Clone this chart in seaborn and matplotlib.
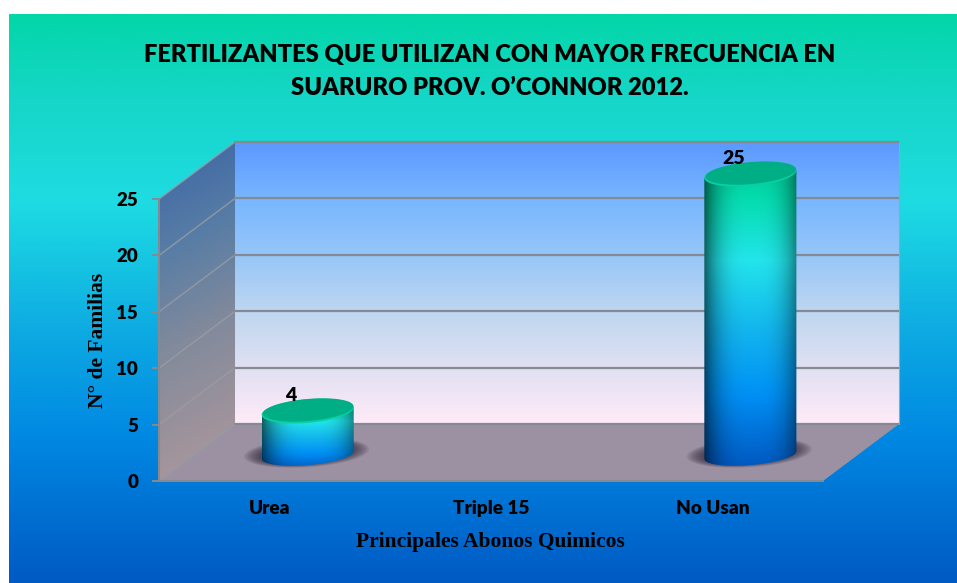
import numpy as np
import pandas as pd
import matplotlib
matplotlib.use('Agg')
import matplotlib.pyplot as plt
from matplotlib.colors import LinearSegmentedColormap
from matplotlib.patches import Polygon
import seaborn as sns

categorias = ['Urea', 'Triple 15', 'No Usan']
familias = [4, 0, 25]
ticks_y = [0, 5, 10, 15, 20, 25]

titulo = 'FERTILIZANTES QUE UTILIZAN CON MAYOR FRECUENCIA EN\nSUARURO PROV. O\u2019CONNOR 2012.'
etiqueta_x = 'Principales Abonos Quimicos'
etiqueta_y = 'N\u00b0 de Familias'

W, H = 957, 583
# depth of the fake 3d box, in data units
dx = 0.3434
dy = 5.05
base = 2.3
gris = '#858a92'

sns.set_style('white')
plt.rcParams['font.family'] = ['Lato', 'DejaVu Sans']


def cmap(*cols):
    return LinearSegmentedColormap.from_list('c', [(p, tuple(v / 255 for v in c)) for p, c in cols])


fondo_cm = cmap((0, (3, 214, 168)), (0.15, (22, 214, 200)), (0.33, (30, 220, 226)),
                (0.55, (14, 172, 226)), (0.75, (0, 135, 226)), (1, (0, 90, 195)))
pared_cm = cmap((0, (255, 235, 248)), (0.2, (224, 224, 242)), (0.4, (190, 214, 240)),
                (0.6, (150, 198, 248)), (0.8, (120, 182, 255)), (1, (92, 152, 255)))
lado_cm = cmap((0, (168, 150, 155)), (0.4, (130, 138, 155)), (0.7, (88, 125, 165)), (1, (62, 104, 165)))
cil_cm = cmap((0, (0, 85, 190)), (0.25, (0, 145, 245)), (0.45, (18, 180, 238)),
              (0.68, (35, 228, 235)), (0.88, (5, 220, 175)), (1, (0, 200, 150)))

fig = plt.figure(figsize=(W / 100, H / 100), dpi=100, facecolor='white')

# panel background
bg = fig.add_axes([9 / W, 0, (W - 9) / W, (H - 14) / H], zorder=0)
bg.imshow(np.linspace(0, 1, 256).reshape(-1, 1), cmap=fondo_cm, aspect='auto', vmin=0, vmax=1)
bg.axis('off')

ax = fig.add_axes([159 / W, (H - 481) / H, 664 / W, 282 / H], zorder=1)
ax.patch.set_alpha(0)

df = pd.DataFrame({'categoria': categorias, 'familias': familias})
sns.barplot(data=df, x='categoria', y='familias', order=categorias, width=0.416, ax=ax)
ax.set_xlim(-0.5, 2.5)
ax.set_ylim(0, 25)
x0, x1 = -0.5, 2.5


def relleno(pts, extent, arr, cm, z):
    im = ax.imshow(arr, extent=extent, cmap=cm, aspect='auto', vmin=0, vmax=1, origin='lower', zorder=z)
    pol = Polygon(pts, transform=ax.transData, facecolor='none', edgecolor='none')
    # images fall back to the axes box, so give them the whole figure
    im.set_clip_box(fig.bbox)
    im.set_clip_path(pol)
    return im


# back wall, side wall, floor
pared = [(x0 + dx, dy), (x1 + dx, dy), (x1 + dx, 25 + dy), (x0 + dx, 25 + dy)]
relleno(pared, [x0 + dx, x1 + dx, dy, 25 + dy], np.linspace(0, 1, 256).reshape(-1, 1), pared_cm, 0.2)
lado = [(x0, 0), (x0 + dx, dy), (x0 + dx, 25 + dy), (x0, 25)]
xx, yy = np.meshgrid(np.linspace(0, 1, 64), np.linspace(0, 1, 256))
relleno(lado, [x0, x0 + dx, 0, 25 + dy], np.clip(yy * 1.02 - xx * 0.12 + 0.02, 0, 1), lado_cm, 0.2)
ax.add_patch(Polygon([(x0, 0), (x1, 0), (x1 + dx, dy), (x0 + dx, dy)], facecolor='#9b91a3',
                     edgecolor='none', clip_on=False, zorder=0.3))

# grid lines going around the walls
for v in ticks_y:
    ax.plot([x0, x0 + dx], [v, v + dy], color='#9a9ea4', lw=1.1, alpha=0.75, clip_on=False, zorder=0.4)
    ax.plot([x0 + dx, x1 + dx], [v + dy, v + dy], color=gris, lw=1.6, clip_on=False, zorder=0.4)
ax.plot([x1 + dx, x1 + dx], [dy, 25 + dy], color='#a0a4aa', lw=0.8, clip_on=False, zorder=0.4)


def elipse(cx, cy, a, b, n=90):
    t = np.linspace(0, 2 * np.pi, n)
    px = a * np.cos(t)
    # shear so the ellipse looks tilted, left end lower
    py = b * np.sin(t) + (px / a) * 0.33
    return np.column_stack([cx + px, cy + py])


b_el = 1.05
for p, v in zip(ax.patches, familias):
    p.set_visible(False)
    if v <= 0:
        continue
    cx = p.get_x() + p.get_width() / 2 + dx / 2
    a = p.get_width() / 2
    top = base + p.get_height() - 0.1

    # shadow on the floor
    for k in np.linspace(1.36, 1.02, 9):
        ax.add_patch(Polygon(elipse(cx - 0.005, base + 0.2, a * k, b_el * k * 0.9), facecolor='#2a2030',
                             edgecolor='none', alpha=0.1, clip_on=False, zorder=0.5))

    # body: top edge plus lower half of the base ellipse
    inf = elipse(cx, base, a, b_el * 0.85)
    sup = elipse(cx, top, a, b_el)
    cuerpo = np.vstack([sup[[0]], sup[len(sup) // 2:len(sup) // 2 + 1], inf[len(inf) // 2:]])
    u = np.linspace(-1, 1, 128)
    f = np.linspace(0, 1, 256)
    tono = cil_cm(f)[:, None, :3] * (1 - 0.5 * np.abs(u - 0.05)[None, :, None] ** 3)
    relleno(cuerpo, [cx - a, cx + a, base - b_el - 0.4, top + b_el], tono, None, 2)

    # cap
    ax.add_patch(Polygon(sup, facecolor='#09cfa2', edgecolor='none', clip_on=False, zorder=2.2))
    ax.add_patch(Polygon(elipse(cx + 0.002, top + 0.1, a * 0.985, b_el * 0.93), facecolor='#00ae86',
                         edgecolor='none', clip_on=False, zorder=2.3))

    ax.annotate(str(v), (p.get_x() + p.get_width() / 2 + 0.095, top), xytext=(0, 11.5), textcoords='offset points',
                ha='center', va='center', fontsize=14, fontweight=800, color='black',
                annotation_clip=False, zorder=3)

ax.set_yticks(ticks_y)
ax.set_xticks(range(len(categorias)))
ax.set_xticklabels(categorias, fontsize=13.7, fontweight=800, color='black')
ax.set_yticklabels([str(t) for t in ticks_y], fontsize=13.5, fontweight=800, color='black')
ax.tick_params(axis='x', length=0, pad=14)
ax.tick_params(axis='y', length=5, width=1.4, color=gris, pad=10, left=True)
ax.set_xlim(x0, x1)
ax.set_ylim(0, 25)

for s in ['top', 'right']:
    ax.spines[s].set_visible(False)
for s in ['left', 'bottom']:
    ax.spines[s].set_color(gris)
    ax.spines[s].set_linewidth(1.5)

ax.set_xlabel(etiqueta_x, fontfamily='Liberation Serif', fontsize=15.5, fontweight='bold', va='center', color='black')
ax.xaxis.set_label_coords(0.4985, -0.216)
ax.set_ylabel(etiqueta_y, fontfamily='Liberation Serif', fontsize=15.5, fontweight='bold', va='center', color='black')
ax.yaxis.set_label_coords(-0.0915, 0.5)

fig.suptitle(titulo, x=490 / W, y=1 - 71.5 / H, va='center', ha='center', fontsize=17.1,
             fontweight=800, linespacing=1.62, color='black')

fig.savefig('out.png', dpi=100)
